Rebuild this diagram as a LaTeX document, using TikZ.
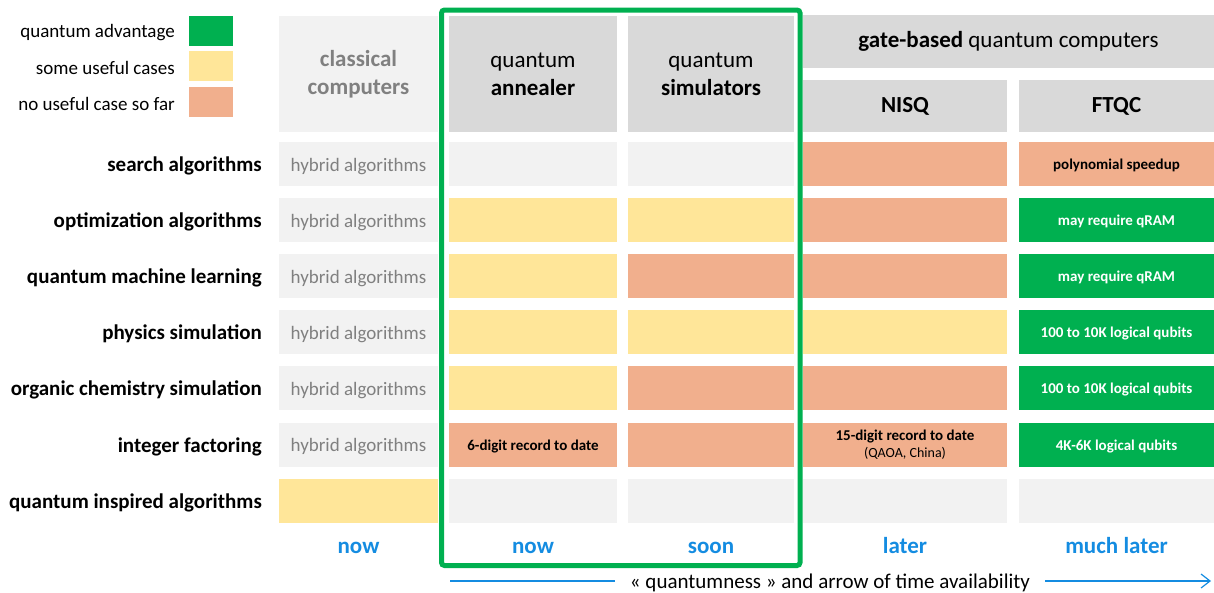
\documentclass[tikz,border=0pt]{standalone}
\usepackage{fontspec}
\setmainfont{Carlito}
\usetikzlibrary{arrows.meta,positioning}
\usepackage{xcolor}
\definecolor{qagreen}{RGB}{0,176,80}
\definecolor{qayellow}{RGB}{255,230,153}
\definecolor{qaorange}{RGB}{241,175,141}
\definecolor{qalight}{RGB}{242,242,242}
\definecolor{qahead}{RGB}{217,217,217}
\definecolor{qagray}{RGB}{128,128,128}
\definecolor{qablue}{RGB}{20,140,225}
\tikzset{
    cell/.style={
        fill=#1,inner sep=0pt,minimum height=44pt,align=center,
        text height=13pt,text depth=2pt,
        font=\fontsize{15}{17}\selectfont\bfseries
    },
    cell/.default=qalight,
    good/.style={cell=qagreen,text=white},
    hybrid/.style={
        cell=qalight,text=qagray,text height=17pt,text depth=3pt,
        font=\fontsize{19}{22}\selectfont
    },
    head/.style={
        fill=qahead,inner sep=0pt,align=center,
        font=\fontsize{23}{28}\selectfont
    },
    rowlabel/.style={
        anchor=east,inner sep=0pt,yshift=-2pt,
        font=\fontsize{21}{24}\selectfont\bfseries
    },
    when/.style={
        text=qablue,text height=16pt,text depth=5pt,
        font=\fontsize{23}{26}\selectfont\bfseries
    },
    legend/.style={
        anchor=east,inner sep=0pt,yshift=-2pt,
        font=\fontsize{19}{22}\selectfont
    },
    swatch/.style={fill=#1,minimum width=44pt,minimum height=30pt,inner sep=0pt},
    wcl/.style={minimum width=159pt},
    wan/.style={minimum width=168pt},
    wsi/.style={minimum width=166pt},
    wni/.style={minimum width=204pt},
    wft/.style={minimum width=195pt},
    timeline/.style={draw=qablue,line width=1.2pt}
}

\begin{document}
\begin{tikzpicture}[x=1pt,y=-1pt]
\useasboundingbox (0,0) rectangle (1214,592);

% legend
\node[swatch=qagreen](sw-adv) at (211,31){};
\node[swatch=qayellow](sw-some) at (211,66){};
\node[swatch=qaorange](sw-none) at (211,101.5){};
\node[legend](lg-adv) at (175,31){quantum advantage};
\node[legend](lg-some) at (175,66){some useful cases};
\node[legend](lg-none) at (175,101.5){no useful case so far};

% column headers
\node[head,wcl,minimum height=116pt,fill=qalight,text=qagray,font=\fontsize{23}{28}\selectfont\bfseries]
(classical) at (358.5,74){classical\\computers};
\node[head,wan,minimum height=116pt](annealer) at (533,74){quantum\\\textbf{annealer}};
\node[head,wsi,minimum height=116pt](simulators) at (711,74){quantum\\\textbf{simulators}};
\node[head,minimum width=411pt,minimum height=53pt](gatebased) at (1008.5,41.5){\textbf{gate-based} quantum computers};
\node[head,wni,minimum height=52pt,font=\fontsize{23}{28}\selectfont\bfseries](nisq) at (905,106){NISQ};
\node[head,wft,minimum height=52pt,font=\fontsize{23}{28}\selectfont\bfseries](ftqc) at (1116.5,106){FTQC};

% row labels
\node[rowlabel](lab-search) at (262,164){search algorithms};
\node[rowlabel](lab-optim) at (262,220){optimization algorithms};
\node[rowlabel](lab-qml) at (262,276){quantum machine learning};
\node[rowlabel](lab-physics) at (262,332){physics simulation};
\node[rowlabel](lab-chem) at (262,388){organic chemistry simulation};
\node[rowlabel](lab-factor) at (262,444.5){integer factoring};
\node[rowlabel](lab-inspired) at (262,501){quantum inspired algorithms};

% search algorithms
\node[hybrid,wcl](search-cl) at (358.5,164){hybrid algorithms};
\node[cell,wan](search-an) at (533,164){};
\node[cell,wsi](search-si) at (711,164){};
\node[cell=qaorange,wni](search-ni) at (905,164){};
\node[cell=qaorange,wft](search-ft) at (1116.5,164){polynomial speedup};

% optimization algorithms
\node[hybrid,wcl](optim-cl) at (358.5,220){hybrid algorithms};
\node[cell=qayellow,wan](optim-an) at (533,220){};
\node[cell=qayellow,wsi](optim-si) at (711,220){};
\node[cell=qaorange,wni](optim-ni) at (905,220){};
\node[good,wft](optim-ft) at (1116.5,220){may require qRAM};

% quantum machine learning
\node[hybrid,wcl](qml-cl) at (358.5,276){hybrid algorithms};
\node[cell=qayellow,wan](qml-an) at (533,276){};
\node[cell=qaorange,wsi](qml-si) at (711,276){};
\node[cell=qaorange,wni](qml-ni) at (905,276){};
\node[good,wft](qml-ft) at (1116.5,276){may require qRAM};

% physics simulation
\node[hybrid,wcl](physics-cl) at (358.5,332){hybrid algorithms};
\node[cell=qayellow,wan](physics-an) at (533,332){};
\node[cell=qayellow,wsi](physics-si) at (711,332){};
\node[cell=qayellow,wni](physics-ni) at (905,332){};
\node[good,wft](physics-ft) at (1116.5,332){100 to 10K logical qubits};

% organic chemistry simulation
\node[hybrid,wcl](chem-cl) at (358.5,388){hybrid algorithms};
\node[cell=qayellow,wan](chem-an) at (533,388){};
\node[cell=qaorange,wsi](chem-si) at (711,388){};
\node[cell=qaorange,wni](chem-ni) at (905,388){};
\node[good,wft](chem-ft) at (1116.5,388){100 to 10K logical qubits};

% integer factoring
\node[hybrid,wcl](factor-cl) at (358.5,444.5){hybrid algorithms};
\node[cell=qaorange,wan](factor-an) at (533,444.5){6-digit record to date};
\node[cell=qaorange,wsi](factor-si) at (711,444.5){};
\node[cell=qaorange,wni,text height=,text depth=](factor-ni) at (905,444.5)
{15-digit record to date\\{\fontsize{14}{16}\selectfont\mdseries (QAOA, China)}};
\node[good,wft](factor-ft) at (1116.5,444.5){4K-6K logical qubits};

% quantum inspired algorithms
\node[cell=qayellow,wcl](inspired-cl) at (358.5,501){};
\node[cell,wan](inspired-an) at (533,501){};
\node[cell,wsi](inspired-si) at (711,501){};
\node[cell,wni](inspired-ni) at (905,501){};
\node[cell,wft](inspired-ft) at (1116.5,501){};

% availability
\node[when](now-cl) at (358.5,547.5){now};
\node[when](now-an) at (533,547.5){now};
\node[when](soon-si) at (711,547.5){soon};
\node[when](later-ni) at (905,547.5){later};
\node[when](later-ft) at (1116.5,547.5){much later};

% analog quantum frame
\draw[qagreen,line width=5pt,rounded corners=3pt](441.5,10) rectangle (800,565.5);

% quantumness arrow
\coordinate (tl-start) at (450,581);
\coordinate (tl-end) at (1211,581);
\node[inner xsep=15pt,inner ysep=0pt,text height=17pt,text depth=3pt,font=\fontsize{21}{24}\selectfont]
(tl) at (830,581){« quantumness » and arrow of time availability};
\draw[timeline](tl-start)--(tl.west);
\draw[timeline,-{Straight Barb[length=9pt,width=14pt]}](tl.east)--(tl-end);

\end{tikzpicture}
\end{document}
